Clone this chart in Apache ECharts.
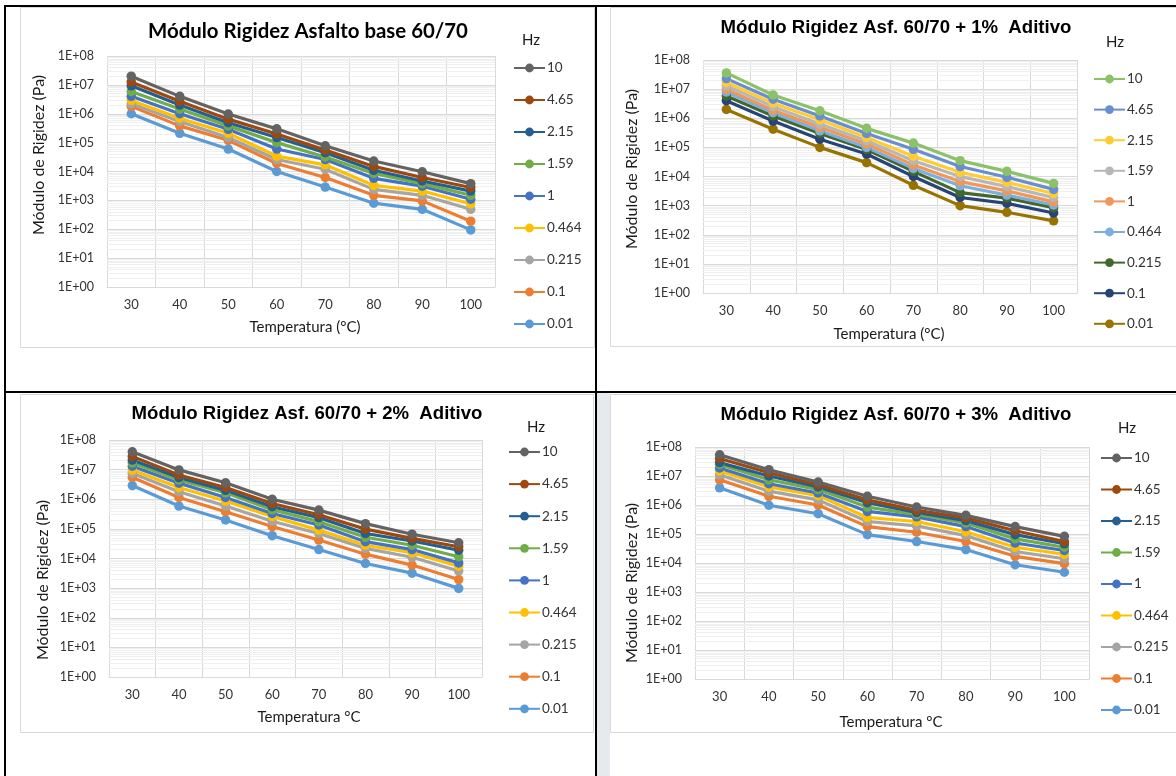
<!DOCTYPE html>
<html>
<head>
<meta charset="utf-8">
<title>Módulo Rigidez</title>
<script src="https://cdn.jsdelivr.net/npm/echarts@6/dist/echarts.min.js"></script>
<style>
  html, body { margin: 0; padding: 0; background: #ffffff; }
  #chart { width: 1176px; height: 776px; }
</style>
</head>
<body>
<div id="chart"></div>
<script>
// Test temperatures (°C) on the category axis
const temperatures = ['30', '40', '50', '60', '70', '80', '90', '100'];
// Loading frequencies (Hz), listed as in the legends (highest first)
const frequencies = ['10', '4.65', '2.15', '1.59', '1', '0.464', '0.215', '0.1', '0.01'];
// Decade exponents used for the log-axis tick labels (1E+00 ... 1E+08)
const decadeExponents = [0, 1, 2, 3, 4, 5, 6, 7, 8];

// Stiffness modulus (Pa), one row per frequency in the order above
const baseValues = [
  [2.0e7, 4.0e6, 9.8e5, 3.0e5, 7.8e4, 2.3e4, 9.8e3, 3.8e3],
  [1.26e7, 2.7e6, 6.5e5, 2.0e5, 5.5e4, 1.5e4, 6.2e3, 2.8e3],
  [9.3e6, 2.0e6, 4.9e5, 1.5e5, 4.5e4, 1.1e4, 4.7e3, 2.1e3],
  [5.9e6, 1.45e6, 3.8e5, 1.0e5, 3.2e4, 8.6e3, 3.8e3, 1.5e3],
  [4.0e6, 1.0e6, 2.9e5, 6.0e4, 2.6e4, 5.8e3, 3.1e3, 1.1e3],
  [2.9e6, 7.0e5, 2.1e5, 3.4e4, 1.7e4, 3.3e3, 2.1e3, 7.6e2],
  [2.2e6, 5.4e5, 1.5e5, 2.6e4, 1.2e4, 2.4e3, 1.5e3, 4.9e2],
  [1.8e6, 3.8e5, 1.2e5, 1.9e4, 6.2e3, 1.5e3, 9.6e2, 1.9e2],
  [1.0e6, 2.1e5, 6.0e4, 1.0e4, 2.9e3, 8.0e2, 4.9e2, 9.5e1]
];
const additive1Values = [
  [3.6e7, 6.3e6, 1.8e6, 4.5e5, 1.4e5, 3.5e4, 1.5e4, 5.8e3],
  [2.3e7, 4.5e6, 1.2e6, 3.0e5, 8.6e4, 2.2e4, 9.4e3, 3.6e3],
  [1.7e7, 3.3e6, 8.8e5, 2.2e5, 5.0e4, 1.4e4, 6.3e3, 2.6e3],
  [1.3e7, 2.5e6, 6.3e5, 1.7e5, 3.5e4, 1.0e4, 4.5e3, 1.9e3],
  [1.0e7, 1.9e6, 4.9e5, 1.3e5, 2.5e4, 6.7e3, 3.2e3, 1.35e3],
  [8.0e6, 1.55e6, 3.7e5, 1.0e5, 1.9e4, 4.8e3, 2.3e3, 1.05e3],
  [5.8e6, 1.2e6, 3.0e5, 8.5e4, 1.5e4, 2.8e3, 1.8e3, 8.5e2],
  [4.0e6, 8.0e5, 1.9e5, 5.9e4, 1.0e4, 1.9e3, 1.2e3, 5.6e2],
  [2.0e6, 4.2e5, 1.0e5, 3.0e4, 5.0e3, 1.0e3, 5.9e2, 3.0e2]
];
const additive2Values = [
  [4.0e7, 9.8e6, 3.6e6, 1.0e6, 4.3e5, 1.5e5, 6.6e4, 3.4e4],
  [2.8e7, 6.6e6, 2.5e6, 7.2e5, 3.0e5, 9.8e4, 4.8e4, 2.5e4],
  [2.1e7, 5.4e6, 2.0e6, 5.6e5, 2.4e5, 7.0e4, 3.9e4, 1.9e4],
  [1.7e7, 4.5e6, 1.65e6, 4.4e5, 1.75e5, 5.2e4, 2.8e4, 1.15e4],
  [1.3e7, 3.5e6, 1.15e6, 3.3e5, 1.35e5, 3.7e4, 2.0e4, 7.1e3],
  [9.7e6, 2.5e6, 8.7e5, 2.6e5, 9.1e4, 2.8e4, 1.56e4, 5.5e3],
  [7.5e6, 1.8e6, 5.9e5, 1.8e5, 7.0e4, 2.2e4, 1.1e4, 3.8e3],
  [5.5e6, 1.15e6, 3.8e5, 1.2e5, 4.2e4, 1.4e4, 6.0e3, 1.95e3],
  [2.9e6, 5.9e5, 2.0e5, 5.9e4, 2.0e4, 6.8e3, 3.2e3, 9.8e2]
];
const additive3Values = [
  [5.4e7, 1.65e7, 6.2e6, 2.0e6, 8.5e5, 4.4e5, 1.8e5, 8.3e4],
  [4.0e7, 1.3e7, 5.0e6, 1.5e6, 6.5e5, 3.6e5, 1.3e5, 5.5e4],
  [2.9e7, 1.0e7, 4.2e6, 1.2e6, 5.5e5, 2.9e5, 9.5e4, 4.6e4],
  [2.5e7, 7.4e6, 3.4e6, 8.5e5, 4.7e5, 2.4e5, 6.8e4, 3.5e4],
  [1.9e7, 5.4e6, 2.6e6, 6.0e5, 3.9e5, 1.8e5, 4.9e4, 2.7e4],
  [1.5e7, 4.2e6, 2.1e6, 3.7e5, 2.7e5, 1.2e5, 3.5e4, 2.0e4],
  [1.1e7, 3.0e6, 1.5e6, 2.7e5, 1.9e5, 8.8e4, 2.5e4, 1.4e4],
  [7.4e6, 2.0e6, 1.0e6, 1.8e5, 1.15e5, 5.5e4, 1.7e4, 9.5e3],
  [3.9e6, 9.8e5, 5.0e5, 9.5e4, 5.5e4, 2.9e4, 8.7e3, 4.8e3]
];

// Series colours, same order as the frequencies
const paletteMain = ['#636363', '#9E480E', '#255E91', '#70AD47', '#4472C4', '#FFC000', '#A5A5A5', '#ED7D31', '#5B9BD5'];
const paletteAlt = ['#8CC168', '#698ED0', '#FFCD33', '#B7B7B7', '#F1975A', '#7CAFDD', '#43682B', '#264478', '#997300'];

const titleMain = 'Módulo Rigidez Asfalto base 60/70';
const titleAdd1 = 'Módulo Rigidez Asf. 60/70 + 1%  Aditivo';
const titleAdd2 = 'Módulo Rigidez Asf. 60/70 + 2%  Aditivo';
const titleAdd3 = 'Módulo Rigidez Asf. 60/70 + 3%  Aditivo';
const yAxisTitle = 'Módulo de Rigidez (Pa)';
const xAxisTitleParen = 'Temperatura (°C)';
const xAxisTitlePlain = 'Temperatura °C';
const legendTitle = 'Hz';

// Page layout of the four charts
const panels = [
  { title: titleMain, titleFont: 'Lato', titleSize: 20.4, values: baseValues, colors: paletteMain, xTitle: xAxisTitleParen,
    grid: { left: 107, top: 56, width: 388, height: 231 }, titleAt: [308, 33], yTitleAt: [39, 155], xTitleAt: [305, 327],
    hzAt: [522, 40], legend: { left: 513, top: 61, gap: 18 }, box: [20, 7, 574, 340] },
  { title: titleAdd1, titleFont: 'Liberation Sans', titleSize: 18.6, values: additive1Values, colors: paletteAlt, xTitle: xAxisTitleParen,
    grid: { left: 703, top: 60, width: 374, height: 233 }, titleAt: [896, 30], yTitleAt: [632, 169], xTitleAt: [889, 334],
    hzAt: [1106, 42], legend: { left: 1093, top: 72, gap: 16.6 }, box: [610, 7, 580, 339] },
  { title: titleAdd2, titleFont: 'Liberation Sans', titleSize: 18.6, values: additive2Values, colors: paletteMain, xTitle: xAxisTitlePlain,
    grid: { left: 109, top: 440, width: 373, height: 237 }, titleAt: [307, 416], yTitleAt: [43, 580], xTitleAt: [309, 717],
    hzAt: [527, 427], legend: { left: 508, top: 445, gap: 18.1 }, box: [20, 394, 573, 338] },
  { title: titleAdd3, titleFont: 'Liberation Sans', titleSize: 18.6, values: additive3Values, colors: paletteMain, xTitle: xAxisTitlePlain,
    grid: { left: 695, top: 447, width: 394, height: 232 }, titleAt: [896, 417], yTitleAt: [632, 583], xTitleAt: [891, 722],
    hzAt: [1118, 428], legend: { left: 1100, top: 451, gap: 17.5 }, box: [610, 394, 580, 338] }
];

const labelFont = 'Lato';
const textColor = '#333333';
const majorGrid = '#D9D9D9';
const minorGrid = '#EFEFEF';

const sciLabel = v => {
  const e = Math.round(Math.log10(v));
  return '1E+' + (e < 10 ? '0' + e : String(e));
};

// Minor log gridlines at 2..9 x 10^n
const minorLevels = [];
decadeExponents.slice(0, -1).forEach(n => {
  for (let m = 2; m <= 9; m++) minorLevels.push(m * Math.pow(10, n));
});

const grids = [], xAxes = [], yAxes = [], series = [], legends = [], titles = [], graphics = [];

// Black frame lines between the charts
graphics.push(
  { type: 'rect', shape: { x: 4, y: 5, width: 1172, height: 2 }, style: { fill: '#000' }, z: 50 },
  { type: 'rect', shape: { x: 4, y: 5, width: 2, height: 771 }, style: { fill: '#000' }, z: 50 },
  { type: 'rect', shape: { x: 595, y: 5, width: 2, height: 771 }, style: { fill: '#000' }, z: 50 },
  { type: 'rect', shape: { x: 4, y: 391, width: 1172, height: 2 }, style: { fill: '#000' }, z: 50 },
  // faint page background showing in the gap between the lower charts
  { type: 'rect', shape: { x: 597, y: 393, width: 13, height: 383 }, style: { fill: '#E6E9EE' }, z: -8 }
);

panels.forEach((p, i) => {
  graphics.push({
    type: 'rect', z: -5,
    shape: { x: p.box[0] + 0.5, y: p.box[1] + 0.5, width: p.box[2], height: p.box[3] },
    style: { fill: '#ffffff', stroke: majorGrid, lineWidth: 1 }
  });
  graphics.push({
    type: 'text', z: 10, x: p.yTitleAt[0], y: p.yTitleAt[1], rotation: Math.PI / 2,
    style: { text: yAxisTitle, font: '16px Lato', fill: '#1a1a1a', align: 'center', verticalAlign: 'middle' }
  });
  graphics.push({
    type: 'text', z: 10, x: p.xTitleAt[0], y: p.xTitleAt[1],
    style: { text: p.xTitle, font: '15px Lato', fill: '#1a1a1a', align: 'center', verticalAlign: 'middle' }
  });
  graphics.push({
    type: 'text', z: 10, x: p.hzAt[0], y: p.hzAt[1],
    style: { text: legendTitle, font: '15px Lato', fill: '#1a1a1a', align: 'left', verticalAlign: 'middle' }
  });

  titles.push({
    text: p.title, left: p.titleAt[0], top: p.titleAt[1] - 12, textAlign: 'center', padding: 0,
    textStyle: { fontFamily: p.titleFont, fontWeight: 'bold', fontSize: p.titleSize, color: '#000' }
  });

  grids.push(Object.assign({ containLabel: false }, p.grid));

  xAxes.push({
    type: 'category', gridIndex: i, data: temperatures, boundaryGap: true,
    axisTick: { show: false },
    axisLine: { lineStyle: { color: majorGrid, width: 1 } },
    splitLine: { show: true, interval: 0, lineStyle: { color: majorGrid, width: 1 } },
    axisLabel: { interval: 0, margin: 11, color: textColor, fontSize: 13, fontFamily: labelFont }
  });

  yAxes.push({
    type: 'log', gridIndex: i, logBase: 10, min: 1, max: 1e8, splitNumber: 8,
    axisLine: { show: false }, axisTick: { show: false },
    splitLine: { show: true, lineStyle: { color: majorGrid, width: 1 } },
    axisLabel: { formatter: sciLabel, margin: 13, color: textColor, fontSize: 12.5, fontFamily: labelFont }
  });

  // minor gridlines drawn beneath the data
  series.push({
    type: 'line', name: 'grid' + i, xAxisIndex: i, yAxisIndex: i, data: [], silent: true, z: 1,
    markLine: {
      silent: true, symbol: 'none', z: 1, animation: false,
      label: { show: false },
      lineStyle: { color: minorGrid, width: 1, type: 'solid' },
      emphasis: { disabled: true },
      data: minorLevels.map(v => ({ yAxis: v }))
    }
  });

  // lowest frequency first so the 10 Hz line ends up on top
  for (let j = frequencies.length - 1; j >= 0; j--) {
    const c = p.colors[j];
    series.push({
      type: 'line', name: i + '|' + frequencies[j], xAxisIndex: i, yAxisIndex: i,
      data: p.values[j], symbol: 'circle', symbolSize: 9.5, z: 3,
      lineStyle: { color: c, width: 3.2 }, itemStyle: { color: c },
      emphasis: { disabled: true }, animation: false
    });
  }

  legends.push({
    orient: 'vertical', left: p.legend.left, top: p.legend.top, padding: 0,
    itemWidth: 31, itemHeight: 11, itemGap: p.legend.gap - 0, selectedMode: false,
    data: frequencies.map(f => i + '|' + f),
    formatter: name => name.split('|')[1],
    textStyle: { fontFamily: labelFont, fontSize: 13.5, color: textColor, lineHeight: 14, padding: [0, 0, 0, -3] }
  });
});

const chart = echarts.init(document.getElementById('chart'), null, { renderer: 'canvas' });
chart.setOption({
  animation: false,
  backgroundColor: '#ffffff',
  title: titles,
  grid: grids,
  xAxis: xAxes,
  yAxis: yAxes,
  legend: legends,
  graphic: { elements: graphics },
  series: series
});
</script>
</body>
</html>
